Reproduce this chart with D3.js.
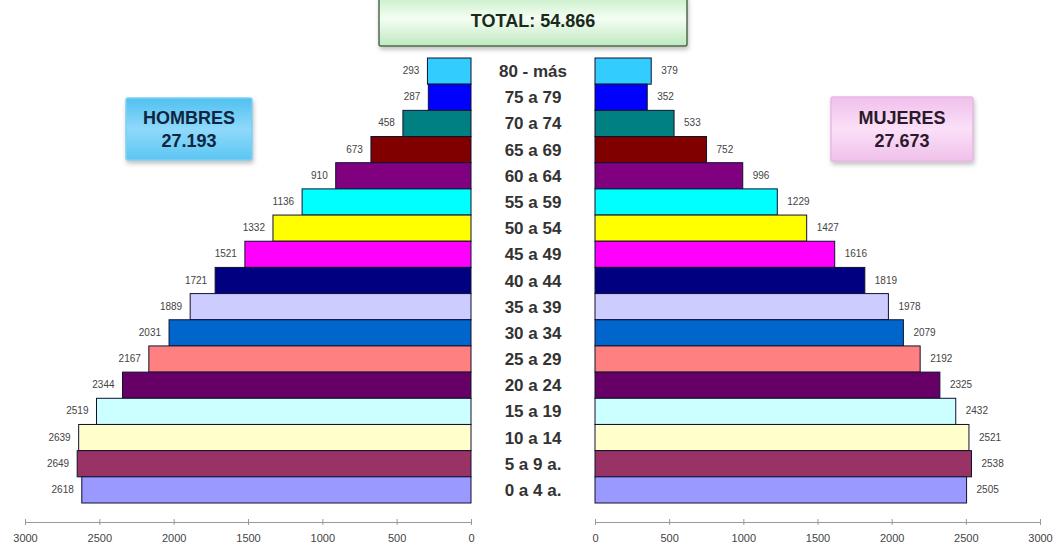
<!DOCTYPE html>
<html>
<head>
<meta charset="utf-8">
<script src="https://cdn.jsdelivr.net/npm/d3@7"></script>
<style>
  body { margin: 0; background: #fff; font-family: Arial, "Liberation Sans", sans-serif; }
</style>
</head>
<body>
<div id="chart"></div>
<script>
// data, top to bottom
const ageGroups = ["80 - más", "75 a 79", "70 a 74", "65 a 69", "60 a 64", "55 a 59", "50 a 54", "45 a 49",
    "40 a 44", "35 a 39", "30 a 34", "25 a 29", "20 a 24", "15 a 19", "10 a 14", "5 a 9 a.", "0 a 4 a."];
const hombres = [293, 287, 458, 673, 910, 1136, 1332, 1521, 1721, 1889, 2031, 2167, 2344, 2519, 2639, 2649, 2618];
const mujeres = [379, 352, 533, 752, 996, 1229, 1427, 1616, 1819, 1978, 2079, 2192, 2325, 2432, 2521, 2538, 2505];
const barColors = ["#33ccff", "#0000ff", "#008080", "#800000", "#800080", "#00ffff", "#ffff00", "#ff00ff",
    "#000080", "#ccccff", "#0066cc", "#ff8080", "#660066", "#ccffff", "#ffffcc", "#993366", "#9999ff"];
const axisTicks = [0, 500, 1000, 1500, 2000, 2500, 3000];

const width = 1057, height = 546;

const svg = d3.select("#chart").append("svg")
    .attr("width", width)
    .attr("height", height);

const defs = svg.append("defs");

function vGrad(id, stops) {
    const g = defs.append("linearGradient").attr("id", id)
        .attr("x1", 0).attr("y1", 0).attr("x2", 0).attr("y2", 1);
    stops.forEach(s => g.append("stop").attr("offset", s[0]).attr("stop-color", s[1]));
}
vGrad("gTotal", [[0, "#c8efc8"], [0.45, "#f4fdf4"], [1, "#bfe9bf"]]);
vGrad("gMen", [[0, "#4fc0ef"], [0.5, "#8fd9fb"], [1, "#5cc6f2"]]);
vGrad("gWomen", [[0, "#f0c0ec"], [0.5, "#fbe0f8"], [1, "#efc0ea"]]);

const shadow = defs.append("filter").attr("id", "shadow")
    .attr("x", "-10%").attr("y", "-10%").attr("width", "130%").attr("height", "140%");
shadow.append("feDropShadow").attr("dx", 1).attr("dy", 3).attr("stdDeviation", 2)
    .attr("flood-color", "#888").attr("flood-opacity", 0.5);

// Scales
const y = d3.scaleBand().domain(ageGroups).range([58, 503]).padding(0);
const xLeft = d3.scaleLinear().domain([0, 3000]).range([471, 25]);
const xRight = d3.scaleLinear().domain([0, 3000]).range([595, 1040]);

// Left bars (hombres)
svg.append("g").selectAll("rect")
    .data(hombres)
    .join("rect")
    .attr("x", d => xLeft(d))
    .attr("y", (d, i) => y(ageGroups[i]))
    .attr("width", d => xLeft(0) - xLeft(d))
    .attr("height", y.bandwidth())
    .attr("fill", (d, i) => barColors[i])
    .attr("stroke", "#101030")
    .attr("stroke-width", 1);

svg.append("g").selectAll("text")
    .data(hombres)
    .join("text")
    .attr("x", d => xLeft(d) - 8)
    .attr("y", (d, i) => y(ageGroups[i]) + y.bandwidth() / 2 + 3)
    .attr("text-anchor", "end")
    .attr("font-size", "10px")
    .attr("fill", "#444")
    .text(d => d);

// Right bars (mujeres)
svg.append("g").selectAll("rect")
    .data(mujeres)
    .join("rect")
    .attr("x", xRight(0))
    .attr("y", (d, i) => y(ageGroups[i]))
    .attr("width", d => xRight(d) - xRight(0))
    .attr("height", y.bandwidth())
    .attr("fill", (d, i) => barColors[i])
    .attr("stroke", "#101030")
    .attr("stroke-width", 1);

svg.append("g").selectAll("text")
    .data(mujeres)
    .join("text")
    .attr("x", d => xRight(d) + 10)
    .attr("y", (d, i) => y(ageGroups[i]) + y.bandwidth() / 2 + 3)
    .attr("text-anchor", "start")
    .attr("font-size", "10px")
    .attr("fill", "#444")
    .text(d => d);

// Age labels in the middle
svg.append("g").selectAll("text")
    .data(ageGroups)
    .join("text")
    .attr("x", 533)
    .attr("y", d => y(d) + y.bandwidth() / 2 + 6)
    .attr("text-anchor", "middle")
    .attr("font-size", "17px")
    .attr("font-weight", "bold")
    .attr("fill", "#333")
    .text(d => d);

// Axes
function styleAxis(g) {
    g.select(".domain").attr("stroke", "#999");
    g.selectAll(".tick line").attr("stroke", "#999").attr("y1", -3).attr("y2", 3);
    g.selectAll(".tick text").attr("fill", "#444").style("font-size", "11px")
        .attr("font-family", "Arial, 'Liberation Sans', sans-serif").attr("dy", "1.3em");
}

svg.append("g")
    .attr("transform", "translate(0,522)")
    .call(d3.axisBottom(xLeft).tickValues(axisTicks).tickFormat(d3.format("d")).tickSize(3).tickSizeOuter(0))
    .call(styleAxis);

svg.append("g")
    .attr("transform", "translate(0,522)")
    .call(d3.axisBottom(xRight).tickValues(axisTicks).tickFormat(d3.format("d")).tickSize(3).tickSizeOuter(0))
    .call(styleAxis);

// Boxes
function box(x, yy, w, h, fill, stroke, lines, color, size, lh) {
    const g = svg.append("g");
    g.append("rect")
        .attr("x", x).attr("y", yy).attr("width", w).attr("height", h)
        .attr("rx", 2)
        .attr("fill", fill)
        .attr("stroke", stroke)
        .attr("stroke-width", 1.5)
        .attr("filter", "url(#shadow)");
    lines.forEach((t, i) => {
        g.append("text")
            .attr("x", x + w / 2)
            .attr("y", yy + h / 2 + size * 0.36 - (lines.length - 1) * lh / 2 + i * lh)
            .attr("text-anchor", "middle")
            .attr("font-size", size + "px")
            .attr("font-weight", "bold")
            .attr("fill", color)
            .text(t);
    });
}

box(379, -4, 308, 50, "url(#gTotal)", "#4d6b4d", ["TOTAL: 54.866"], "#1a2a1a", 18, 0);
box(126, 98, 126, 62, "url(#gMen)", "#7fd0f5", ["HOMBRES", "27.193"], "#0d2540", 18, 23);
box(831, 97, 142, 64, "url(#gWomen)", "#e8b8e4", ["MUJERES", "27.673"], "#2a1a2a", 18, 23);
</script>
</body>
</html>
